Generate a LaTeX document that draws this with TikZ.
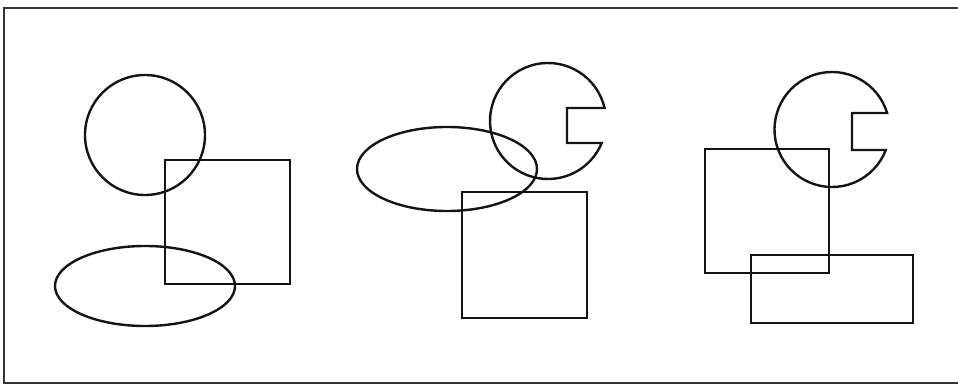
\documentclass[tikz,border=0pt]{standalone}
\begin{document}
\begin{tikzpicture}[x=1pt,y=1pt,
  outl/.style={draw=black!92,line width=2.4pt},
  framel/.style={draw=black!80,line width=1.4pt}]
\useasboundingbox (0,0) rectangle (958,386);
% frame
\coordinate (ftr) at (960,378);
\coordinate (ftl) at (4,378);
\coordinate (fbl) at (4,3);
\coordinate (fbr) at (960,3);
\draw[framel] (ftr) -- (ftl) -- (fbl) -- (fbr);
% panel 1
\draw[outl] (145,251) circle (60);
\draw[outl] (165,102) rectangle (290,226);
\draw[outl] (145,100) ellipse (90 and 40);
% panel 2
\draw[outl] (447,217) ellipse (90 and 42);
\draw[outl] (462,68) rectangle (587,194);
\draw[outl] ([shift={(12.95:58)}]548,265) arc (12.95:337.7:58) -- (567,243) -- (567,278) -- cycle;
% panel 3
\draw[outl] (705,113) rectangle (829,237);
\draw[outl] (751,63) rectangle (913,131);
\draw[outl] ([shift={(16.7:57.5)}]832,256.5) arc (16.7:339.1:57.5) -- (852,236) -- (852,273) -- cycle;
\end{tikzpicture}
\end{document}
